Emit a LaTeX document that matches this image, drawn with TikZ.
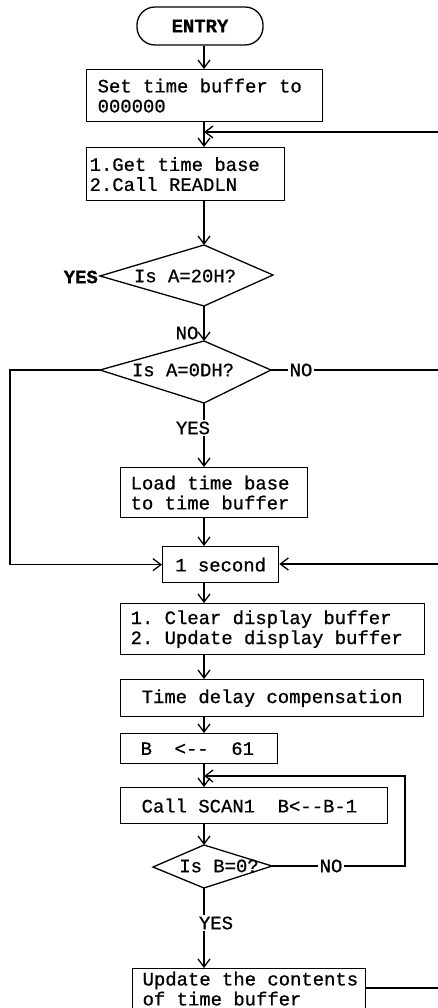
\documentclass[tikz,border=0pt]{standalone}
\usepackage{fontspec}
\newfontfamily\cour{Liberation Mono}[FakeBold=0.8]
\newcommand\monof{\cour\fontsize{18.9}{20}\selectfont}
\newcommand\ssp{\hbox to 0.6em{}}
\usetikzlibrary{arrows.meta}
\tikzset{
  lw/.style={line width=1.3pt},
  arr/.style={lw,-{Straight Barb[length=8pt,width=12pt,line width=1.3pt]}},
  box/.style={draw,lw,anchor=north west,inner ysep=0pt,align=left,font=\monof},
  cbox/.style={box,align=center},
  dtext/.style={font=\monof,inner sep=0pt},
  lbl/.style={font=\monof,inner sep=1pt},
  flbl/.style={lbl,fill=white},
}
\begin{document}
\begin{tikzpicture}[x=1pt,y=-1pt]
\clip (0,0) rectangle (438,1008);
\fill[white] (0,0) rectangle (438,1008);
\coordinate (spine) at (204,0);
% terminal
\node[draw,lw,rounded corners=18pt,minimum width=126pt,minimum height=38pt,
  font=\monof\bfseries] (entry) at (200,26) {ENTRY};
% boxes
\node[box,minimum width=236pt,minimum height=52pt,inner xsep=11pt,text width=214pt] (b1) at (86,69) {Set\ssp time\ssp buffer\ssp to\\000000};
\node[box,minimum width=198pt,minimum height=53pt,inner xsep=3pt,text width=192pt] (b2) at (86,147) {1.Get\ssp time\ssp base\\2.Call\ssp READLN};
\node[box,minimum width=187pt,minimum height=50pt,inner xsep=10pt,text width=167pt] (b3) at (120,467) {Load\ssp time\ssp base\\to\ssp time\ssp buffer};
\node[cbox,minimum width=116pt,minimum height=36pt,inner xsep=6pt,text width=104pt] (b4) at (162,546) {1\ssp second};
\node[box,minimum width=304pt,minimum height=51pt,inner xsep=10pt,text width=284pt] (b5) at (120,603) {1.\ssp Clear\ssp display\ssp buffer\\2.\ssp Update\ssp display\ssp buffer};
\node[cbox,minimum width=303pt,minimum height=37pt,inner xsep=6pt,text width=291pt] (b6) at (120,679) {Time\ssp delay\ssp compensation};
\node[box,minimum width=157pt,minimum height=30pt,inner xsep=20pt,text width=117pt] (b7) at (120,733) {B\ssp\ssp <--\ssp\ssp 61};
\node[box,minimum width=267pt,minimum height=36pt,inner xsep=21pt,text width=225pt] (b8) at (120,787) {Call\ssp SCAN1\ssp\ssp B<--B-1};
\node[box,minimum width=233pt,minimum height=40pt,inner xsep=10pt,text width=213pt] (b9) at (132,968) {Update\ssp the\ssp contents\\of\ssp time\ssp buffer};
% diamonds
\coordinate (d1t) at (204,245); \coordinate (d1l) at (100,276);
\coordinate (d1r) at (273,275); \coordinate (d1b) at (204,306);
\draw[lw,line join=miter] (d1t) -- (d1r) -- (d1b) -- (d1l) -- cycle;
\node[dtext] (d1) at (185,276) {Is\ssp A=20H?};
\coordinate (d2t) at (204,341); \coordinate (d2l) at (100,370);
\coordinate (d2r) at (271,370); \coordinate (d2b) at (204,403);
\draw[lw,line join=miter] (d2t) -- (d2r) -- (d2b) -- (d2l) -- cycle;
\node[dtext] (d2) at (183,370) {Is\ssp A=0DH?};
\coordinate (d3t) at (204,845); \coordinate (d3l) at (153,867);
\coordinate (d3r) at (272,866); \coordinate (d3b) at (204,888);
\draw[lw,line join=miter] (d3t) -- (d3r) -- (d3b) -- (d3l) -- cycle;
\node[dtext] (d3) at (219,866) {Is\ssp B=0?};
% labels
\node[lbl,font=\monof\bfseries,anchor=east] (y1) at (99,277) {YES};
\node[lbl] (n1) at (187,333) {NO};
\node[lbl] (n2) at (301,370) {NO};
\node[flbl] (y2) at (193,428) {YES};
\node[lbl] (n3) at (331,866) {NO};
\node[flbl] (y3) at (216,923) {YES};
% edge coordinates
\coordinate (e1) at (438,132);
\coordinate (e2) at (438,370);
\coordinate (e3) at (438,564);
\coordinate (e4) at (438,988);
\coordinate (c2) at (10,370);
\coordinate (c3) at (405,776);
% connectors
\draw[arr] (entry.south -| spine) -- (b1.north -| spine);
\draw[arr] (b1.south -| spine) -- (b2.north -| spine);
\draw[arr] (e1) -- (e1 -| spine);
\draw[arr] (b2.south -| spine) -- (d1t);
\draw[arr] (d1b) -- (d2t);
\draw[lw] (d2r) -- (n2.west);
\draw[lw] (n2.east) -- (e2);
\draw[arr] (d2l) -- (c2) -- (c2 |- b4.west) -- (b4.west);
\draw[lw] (d2b) -- (y2.north -| spine);
\draw[arr] (y2.south -| spine) -- (b3.north -| spine);
\draw[arr] (b3.south -| spine) -- (b4.north -| spine);
\draw[arr] (e3) -- (e3 -| b4.east);
\draw[arr] (b4.south -| spine) -- (b5.north -| spine);
\draw[arr] (b5.south -| spine) -- (b6.north -| spine);
\draw[arr] (b6.south -| spine) -- (b7.north -| spine);
\draw[arr] (b7.south -| spine) -- (b8.north -| spine);
\draw[arr] (b8.south -| spine) -- (d3t);
\draw[lw] (d3r) -- (n3.west);
\draw[arr] (n3.east) -- (n3.east -| c3) -- (c3) -- (c3 -| spine);
\draw[lw] (d3b) -- (y3.north -| spine);
\draw[arr] (y3.south -| spine) -- (b9.north -| spine);
\draw[lw] (e4 -| b9.east) -- (e4);
\end{tikzpicture}
\end{document}
